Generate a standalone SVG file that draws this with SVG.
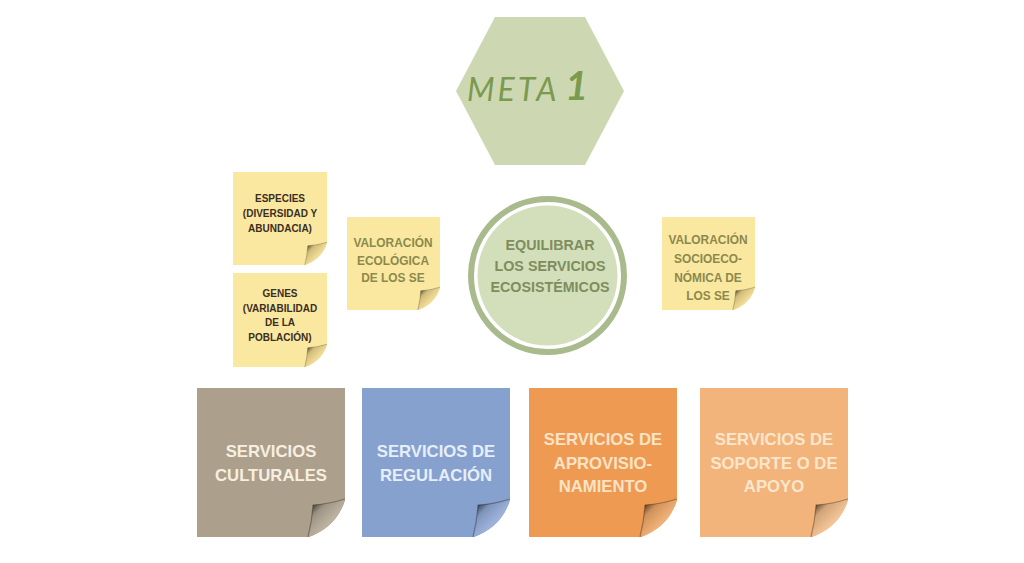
<svg xmlns="http://www.w3.org/2000/svg" xmlns:xlink="http://www.w3.org/1999/xlink" width="1024" height="563" viewBox="0 0 1024 563">
<style>
.t{font-family:"Liberation Sans",Arial,sans-serif;font-weight:bold;text-anchor:middle}
.s{font-size:10px;fill:#3b2e1e}
.v{font-size:11.9px;fill:#8c894c}
.c{font-size:14.3px;fill:#7f8d5d}
.b{font-size:16.7px}
</style>
<defs>
<linearGradient id="shade" gradientUnits="userSpaceOnUse" x1="-33" y1="-31" x2="-14" y2="-12">
<stop offset="0" stop-color="#000" stop-opacity="0.6"/>
<stop offset="0.3" stop-color="#000" stop-opacity="0.15"/>
<stop offset="1" stop-color="#fff" stop-opacity="0.12"/>
</linearGradient>
<g id="curl">
<path d="M0.5,-38 Q-8,-10 -37,0.5 L0.5,0.5 Z" fill="#fff"/>
<path d="M0,-38 Q-16,-33 -32,-32 Q-33,-16 -37,0 Q-8,-10 0,-38 Z" fill="currentColor"/>
<path d="M0,-38 Q-16,-33 -32,-32 Q-33,-16 -37,0 Q-8,-10 0,-38 Z" fill="url(#shade)"/>
<path d="M0,-38 Q-16,-33 -32,-32 Q-33,-16 -37,0" fill="none" stroke="#000" stroke-opacity="0.3" stroke-width="1.2"/>
</g>
</defs>
<rect width="1024" height="563" fill="#fff"/>

<g id="meta">
<polygon points="495,17 585,17 624,91 585,165 495,165 456,91" fill="#cdd8b3"/>
<text x="467" y="101" font-family="Lato,'DejaVu Sans',sans-serif" font-style="italic" font-weight="normal" font-size="32" letter-spacing="3" fill="#7b9a4e">META</text>
<text x="565" y="100" font-family="Lato,'DejaVu Sans',sans-serif" font-style="italic" font-weight="bold" font-size="40" fill="#7b9a4e">1</text>
</g>

<g id="especies">
<rect x="233" y="172" width="94" height="93" fill="#fae8a1"/>
<use xlink:href="#curl" transform="translate(327,265) scale(0.6)" style="color:#f5dc8e"/>
<text class="t s" x="280"><tspan x="280" y="202">ESPECIES</tspan><tspan x="280" y="217">(DIVERSIDAD Y</tspan><tspan x="280" y="232">ABUNDACIA)</tspan></text>
</g>

<g id="genes">
<rect x="233" y="273" width="94" height="94" fill="#fae8a1"/>
<use xlink:href="#curl" transform="translate(327,367) scale(0.6)" style="color:#f5dc8e"/>
<text class="t s" x="280"><tspan x="280" y="297">GENES</tspan><tspan x="280" y="312">(VARIABILIDAD</tspan><tspan x="280" y="326">DE LA</tspan><tspan x="280" y="341">POBLACIÓN)</tspan></text>
</g>

<g id="valoracion-ecologica">
<rect x="347" y="217" width="93" height="93" fill="#fae8a1"/>
<use xlink:href="#curl" transform="translate(440,310) scale(0.6)" style="color:#f5dc8e"/>
<text class="t v"><tspan x="393" y="247">VALORACIÓN</tspan><tspan x="393" y="265">ECOLÓGICA</tspan><tspan x="393" y="282">DE LOS SE</tspan></text>
</g>

<g id="equilibrar">
<circle cx="547.5" cy="275.5" r="76.5" fill="none" stroke="#a9bb8d" stroke-width="6"/>
<circle cx="547.5" cy="275.5" r="70" fill="#d3dfbb"/>
<text class="t c"><tspan x="550" y="250">EQUILIBRAR</tspan><tspan x="550" y="271">LOS SERVICIOS</tspan><tspan x="550" y="292">ECOSISTÉMICOS</tspan></text>
</g>

<g id="valoracion-socioeconomica">
<rect x="662" y="217" width="93" height="93" fill="#fae8a1"/>
<use xlink:href="#curl" transform="translate(755,310) scale(0.6)" style="color:#f5dc8e"/>
<text class="t v"><tspan x="708" y="244">VALORACIÓN</tspan><tspan x="708" y="263">SOCIOECO-</tspan><tspan x="708" y="282">NÓMICA DE</tspan><tspan x="708" y="300">LOS SE</tspan></text>
</g>

<g id="culturales">
<rect x="197" y="388" width="148" height="149" fill="#ac9f8b"/>
<use xlink:href="#curl" transform="translate(345,537)" style="color:#b9ad9a"/>
<text class="t b" fill="#f7efe0"><tspan x="271" y="457">SERVICIOS</tspan><tspan x="271" y="481">CULTURALES</tspan></text>
</g>

<g id="regulacion">
<rect x="362" y="388" width="148" height="149" fill="#87a1cf"/>
<use xlink:href="#curl" transform="translate(510,537)" style="color:#95addb"/>
<text class="t b" fill="#e6eef8"><tspan x="436" y="457">SERVICIOS DE</tspan><tspan x="436" y="481">REGULACIÓN</tspan></text>
</g>

<g id="aprovisionamiento">
<rect x="529" y="388" width="148" height="149" fill="#ef9a52"/>
<use xlink:href="#curl" transform="translate(677,537)" style="color:#f3aa69"/>
<text class="t b" fill="#fbe3c6"><tspan x="603" y="445">SERVICIOS DE</tspan><tspan x="603" y="469">APROVISIO-</tspan><tspan x="603" y="492">NAMIENTO</tspan></text>
</g>

<g id="soporte">
<rect x="700" y="388" width="148" height="149" fill="#f2b47b"/>
<use xlink:href="#curl" transform="translate(848,537)" style="color:#f6c08d"/>
<text class="t b" fill="#fbe6cc"><tspan x="774" y="445">SERVICIOS DE</tspan><tspan x="774" y="469">SOPORTE O DE</tspan><tspan x="774" y="492">APOYO</tspan></text>
</g>

<g id="connectors"/>
</svg>
